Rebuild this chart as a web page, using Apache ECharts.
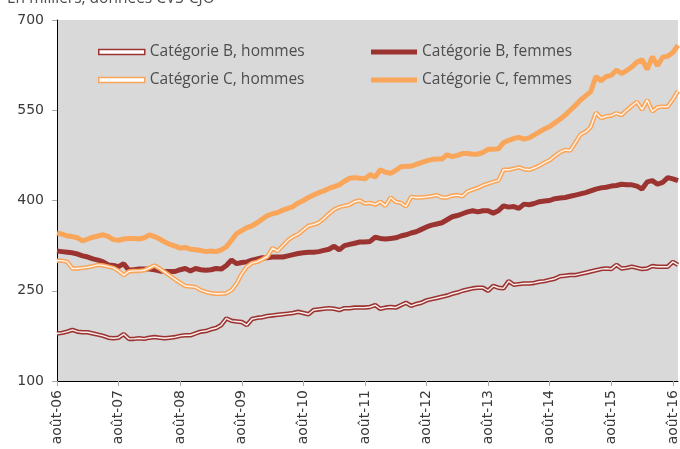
<!DOCTYPE html>
<html>
<head>
<meta charset="utf-8">
<script src="https://cdn.jsdelivr.net/npm/echarts@6/dist/echarts.min.js"></script>
<style>
html,body{margin:0;padding:0;background:#fff;}
#chart{width:680px;height:449px;}
</style>
</head>
<body>
<div id="chart"></div>
<script>
// Months: août 2006 -> sept. 2016 (122 monthly points)
const monthNames = ['janv.','févr.','mars','avr.','mai','juin','juil.','août','sept.','oct.','nov.','déc.'];
const startYear = 2006, startMonth = 7, nPoints = 122;
const categories = [];
for (let k = 0; k < nPoints; k++) {
  const m = (startMonth + k) % 12;
  const y = startYear + Math.floor((startMonth + k) / 12);
  categories.push(monthNames[m] + '-' + String(y % 100).padStart(2, '0'));
}

const yTicks = [100, 250, 400, 550, 700];

const bHommes = [179,180,182,185,182,181,181,179,177,175,172,171,172,178,170,170,171,170,172,173,
172,171,172,173,175,176,176,179,182,183,186,188,193,204,200,199,198,193,203,205,
206,208,209,210,211,212,213,215,213,211,218,219,220,221,220,218,221,221,222,222,
222,223,226,220,222,223,222,226,230,225,228,230,234,236,238,240,242,245,247,250,
252,254,255,255,250,258,255,254,266,260,261,262,262,263,265,266,268,270,274,275,
276,276,278,280,282,284,286,287,286,293,287,288,290,288,286,287,291,290,290,290,
298,293];

const bFemmes = [316,315,314,313,311,308,306,303,301,298,293,292,290,295,284,285,286,286,286,285,
283,282,282,282,285,287,283,287,285,284,285,287,286,292,301,295,297,298,301,303,
305,305,306,306,306,308,310,312,313,314,314,315,317,319,324,318,325,327,329,331,
331,332,339,337,336,337,338,341,343,346,348,352,356,359,361,363,368,373,375,378,
381,383,381,383,383,379,383,391,389,390,387,394,393,395,398,399,400,403,404,405,
407,409,411,413,416,419,421,422,424,425,427,426,426,424,419,431,433,427,430,438,
436,433];

const cHommes = [300,300,298,287,287,288,289,291,293,292,290,288,283,276,282,283,283,284,288,292,
287,281,275,269,263,258,257,256,251,248,246,245,245,246,251,262,278,290,296,298,
302,307,321,316,325,334,340,344,351,358,360,363,370,378,385,389,391,393,398,400,
395,396,393,398,391,405,398,396,390,406,405,405,406,407,409,405,405,408,409,407,
415,418,421,425,428,431,433,451,451,453,455,452,451,454,458,463,467,474,480,484,
483,496,510,514,522,546,537,540,541,545,542,550,557,564,551,567,548,555,556,556,
568,582];

const cFemmes = [346,344,341,340,338,333,336,339,341,343,340,335,334,336,337,337,336,338,343,340,
336,331,327,324,321,322,319,318,317,315,316,315,318,323,334,345,350,355,358,363,
369,375,378,380,384,387,390,396,400,405,409,413,416,420,423,426,432,437,438,437,
436,443,439,451,447,445,450,456,457,457,460,463,466,468,469,469,476,473,475,478,
478,477,477,480,485,485,486,496,500,503,505,502,504,509,514,519,523,529,535,542,
550,558,567,574,581,606,599,606,608,617,611,616,622,630,634,618,639,624,638,640,
646,658];

const RED = '#9b3431';
const ORANGE = '#f9a55a';
const isAout = (i) => categories[i] && categories[i].indexOf('août') === 0;

const chart = echarts.init(document.getElementById('chart'), null, {renderer: 'canvas'});
const legendText = {color: '#4d4d4d', fontFamily: 'Open Sans', fontSize: 15.5};

chart.setOption({
  animation: false,
  backgroundColor: '#fff',
  graphic: [{
    type: 'text', left: 7, top: -9,
    style: {text: 'En milliers, données CVS-CJO', fill: '#4d4d4d', font: '15.5px "Open Sans"'}
  }],
  grid: {left: 57, right: 2, top: 20, bottom: 68, show: true, backgroundColor: '#d9d9d9', borderWidth: 0},
  legend: [
    {left: 98, top: 44, orient: 'vertical', padding: 0, itemWidth: 46, itemHeight: 5, itemGap: 12,
      textStyle: legendText,
      data: [
        {name: 'Catégorie B, hommes', icon: 'rect', itemStyle: {color: '#fff', borderColor: RED, borderWidth: 1.5}},
        {name: 'Catégorie C, hommes', icon: 'rect', itemStyle: {color: '#fff', borderColor: ORANGE, borderWidth: 1.5}}
      ]},
    {left: 371, top: 44, orient: 'vertical', padding: 0, itemWidth: 46, itemHeight: 5, itemGap: 12,
      textStyle: legendText,
      data: [
        {name: 'Catégorie B, femmes', icon: 'rect', itemStyle: {color: RED}},
        {name: 'Catégorie C, femmes', icon: 'rect', itemStyle: {color: ORANGE}}
      ]}
  ],
  xAxis: {
    type: 'category', boundaryGap: false, data: categories,
    axisLine: {lineStyle: {color: '#000', width: 1}},
    axisTick: {interval: (i) => isAout(i), length: 5, lineStyle: {color: '#aaa'}},
    axisLabel: {interval: (i) => isAout(i), rotate: 90, margin: 9, color: '#3a3a3a',
      fontFamily: 'DejaVu Sans', fontSize: 14},
    splitLine: {show: false}
  },
  yAxis: {
    type: 'value', min: yTicks[0], max: yTicks[yTicks.length - 1], interval: 150,
    axisLine: {show: true, lineStyle: {color: '#000', width: 1}},
    axisTick: {show: true, length: 5, lineStyle: {color: '#aaa'}},
    axisLabel: {margin: 13, color: '#3a3a3a', fontFamily: 'DejaVu Sans', fontSize: 14},
    splitLine: {show: false}
  },
  series: [
    {name: 'Catégorie B, hommes', type: 'line', data: bHommes, symbol: 'none', lineStyle: {color: RED, width: 4.5}, itemStyle: {color: RED}},
    {name: 'bh-inner', type: 'line', data: bHommes, symbol: 'none', silent: true, lineStyle: {color: '#fbeeee', width: 1.4}},
    {name: 'Catégorie B, femmes', type: 'line', data: bFemmes, symbol: 'none', lineStyle: {color: RED, width: 5}, itemStyle: {color: RED}},
    {name: 'Catégorie C, hommes', type: 'line', data: cHommes, symbol: 'none', lineStyle: {color: ORANGE, width: 4.5}, itemStyle: {color: ORANGE}},
    {name: 'ch-inner', type: 'line', data: cHommes, symbol: 'none', silent: true, lineStyle: {color: '#fff4ea', width: 1.4}},
    {name: 'Catégorie C, femmes', type: 'line', data: cFemmes, symbol: 'none', lineStyle: {color: ORANGE, width: 5}, itemStyle: {color: ORANGE}}
  ]
});
</script>
</body>
</html>
